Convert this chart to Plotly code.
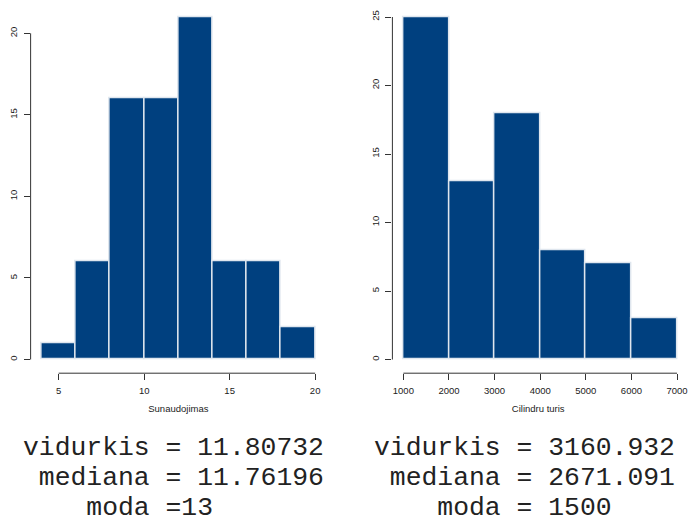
import plotly.graph_objects as go

# ---- data ----
sun_edges = [4, 6, 8, 10, 12, 14, 16, 18, 20]
sun_counts = [1, 6, 16, 16, 21, 6, 6, 2]
sun_xticks = [5, 10, 15, 20]
sun_yticks = [0, 5, 10, 15, 20]

cil_edges = [1000, 2000, 3000, 4000, 5000, 6000, 7000]
cil_counts = [25, 13, 18, 8, 7, 3]
cil_xticks = [1000, 2000, 3000, 4000, 5000, 6000, 7000]
cil_yticks = [0, 5, 10, 15, 20, 25]

left_text = ["vidurkis = 11.80732", " mediana = 11.76196", "    moda =13"]
right_text = ["vidurkis = 3160.932", " mediana = 2671.091", "    moda = 1500"]

W, H = 688, 517
BAR = "#00407f"
EDGE = "#dfe6ee"
AX = "#333333"
TXT = "#222222"
FONT = "Liberation Sans, Arial, Helvetica, sans-serif"
MONO = "Courier New, Nimbus Mono PS, Liberation Mono, monospace"


def centers(edges):
    return [(a + b) / 2 for a, b in zip(edges[:-1], edges[1:])]


def widths(edges):
    return [b - a for a, b in zip(edges[:-1], edges[1:])]


def ext(lo, hi):
    d = (hi - lo) * 0.04
    return [lo - d, hi + d]


fig = go.Figure()
fig.add_trace(go.Bar(x=centers(sun_edges), y=sun_counts, width=widths(sun_edges),
                     marker=dict(color=BAR, line=dict(color=EDGE, width=1.5)),
                     xaxis="x", yaxis="y", showlegend=False, hoverinfo="skip"))
fig.add_trace(go.Bar(x=centers(cil_edges), y=cil_counts, width=widths(cil_edges),
                     marker=dict(color=BAR, line=dict(color=EDGE, width=1.5)),
                     xaxis="x2", yaxis="y2", showlegend=False, hoverinfo="skip"))

y0p = (H - 373.2) / H
y1p = (H - 3.3) / H

# right x range: plot region extends past the page edge
px_per = (681 - 405.7) / 6000
r_lo = cil_edges[0] - (cil_edges[-1] - cil_edges[0]) * 0.04
r_hi = cil_edges[0] + (W - 405.7) / px_per

tick_common = dict(ticks="outside", ticklen=6, tickwidth=1, tickcolor=AX,
                   showgrid=False, zeroline=False, showline=False,
                   ticklabeloverflow="allow",
                   tickfont=dict(family=FONT, size=9.5, color=TXT))

fig.update_layout(
    width=W, height=H,
    margin=dict(l=0, r=0, t=0, b=0),
    paper_bgcolor="white", plot_bgcolor="white",
    bargap=0,
    xaxis=dict(domain=[30.8 / W, 328 / W], range=ext(sun_edges[0], sun_edges[-1]),
               anchor="y", tickvals=sun_xticks, ticklabelstandoff=2,
               title=dict(text="Sunaudojimas", font=dict(family=FONT, size=9.5, color=TXT), standoff=10),
               **tick_common),
    yaxis=dict(domain=[y0p, y1p], range=ext(0, max(sun_counts)), anchor="x",
               tickvals=sun_yticks, tickangle=-90, ticklabelstandoff=3, **tick_common),
    xaxis2=dict(domain=[394.7 / W, 1.0], range=[r_lo, r_hi], anchor="y2",
                tickvals=cil_xticks, ticklabelstandoff=2,
                title=dict(text="Cilindru turis", font=dict(family=FONT, size=9.5, color=TXT), standoff=10),
                **tick_common),
    yaxis2=dict(domain=[y0p, y1p], range=ext(0, max(cil_counts)), anchor="x2",
                tickvals=cil_yticks, tickangle=-90, ticklabelstandoff=3, **tick_common),
)

# R-style axis lines spanning first to last tick
for xr, yr, xt, yt in [("x", "y", sun_xticks, sun_yticks), ("x2", "y2", cil_xticks, cil_yticks)]:
    fig.add_shape(type="line", xref=xr, yref=yr + " domain", x0=xt[0], x1=xt[-1], y0=0, y1=0,
                  line=dict(color=AX, width=1))
    fig.add_shape(type="line", xref=xr + " domain", yref=yr, x0=0, x1=0, y0=yt[0], y1=yt[-1],
                  line=dict(color=AX, width=1))

# statistics text
line_y = [447.5, 478, 507.5]
for block, x_left in [(left_text, 21), (right_text, 374)]:
    for s, yy in zip(block, line_y):
        fig.add_annotation(text=s.replace(" ", "\u00a0"), xref="paper", yref="paper",
                           x=x_left / W, y=(H - yy) / H, xanchor="left", yanchor="middle",
                           showarrow=False, font=dict(family=MONO, size=26.4, color=TXT))

fig.write_html("out.html", config={"displayModeBar": False},
               post_script="document.body.style.margin='0px';document.body.style.overflow='hidden';")
